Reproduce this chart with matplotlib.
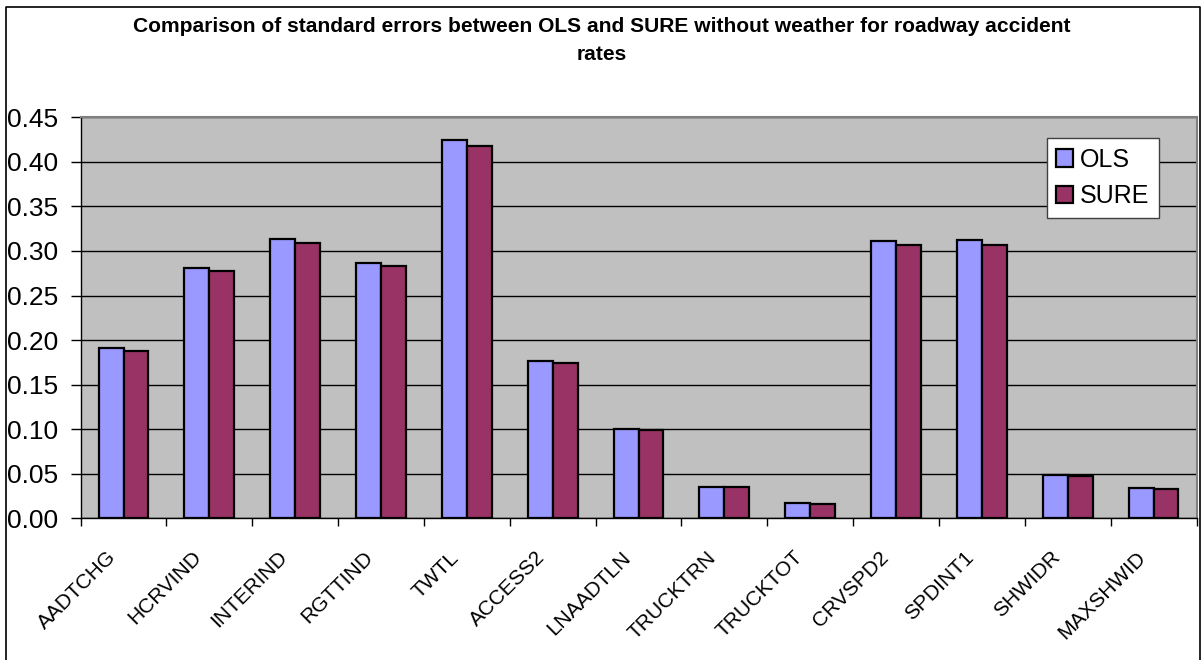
import numpy as np
import matplotlib
matplotlib.use("Agg")
from matplotlib import pyplot as plt
from matplotlib.transforms import ScaledTranslation

plt.rcParams['font.family'] = ['Liberation Sans', 'DejaVu Sans']

categories = ["AADTCHG", "HCRVIND", "INTERIND", "RGTTIND", "TWTL", "ACCESS2", "LNAADTLN",
              "TRUCKTRN", "TRUCKTOT", "CRVSPD2", "SPDINT1", "SHWIDR", "MAXSHWID"]
ols = [0.191, 0.281, 0.313, 0.287, 0.424, 0.177, 0.100, 0.035, 0.017, 0.311, 0.312, 0.049, 0.034]
sure = [0.188, 0.277, 0.309, 0.283, 0.418, 0.174, 0.099, 0.035, 0.016, 0.307, 0.307, 0.048, 0.033]
y_ticks = [0.00, 0.05, 0.10, 0.15, 0.20, 0.25, 0.30, 0.35, 0.40, 0.45]

W, H = 1203, 660
fig = plt.figure(figsize=(W / 100, H / 100), dpi=100)
ax = fig.add_axes([80.6 / W, 1 - 518.3 / H, (1196.5 - 80.6) / W, (518.3 - 117.3) / H])

# outer chart frame (no bottom edge visible)
fig.add_artist(plt.Line2D([6 / W, 6 / W, 1200 / W, 1200 / W], [0, 1 - 7 / H, 1 - 7 / H, 0],
                          transform=fig.transFigure, color="black", lw=1.2))

x = np.arange(len(categories))
bw = 0.29
ax.set_facecolor("#C0C0C0")
ax.bar(x - bw / 2, ols, bw, color="#9999FF", edgecolor="black", lw=1.6, label="OLS", zorder=3)
ax.bar(x + bw / 2, sure, bw, color="#993366", edgecolor="black", lw=1.6, label="SURE", zorder=3)

ax.set_xlim(-0.5, len(categories) - 0.5)
ax.set_ylim(0, 0.45)
ax.set_yticks(y_ticks)
ax.set_yticklabels(["%.2f" % v for v in y_ticks], fontsize=19)
ax.yaxis.grid(True, color="black", lw=1.0, zorder=1)
ax.set_axisbelow(True)

# ticks between categories, labels drawn as rotated texts under each group
ax.set_xticks(np.arange(-0.5, len(categories)))
ax.set_xticklabels([])
ax.tick_params(axis="x", length=6, width=1, direction="out")
ax.tick_params(axis="y", length=7, width=1, direction="out", pad=9)
offset = ScaledTranslation(-7 / 100, -40 / 100, fig.dpi_scale_trans)
for xi, name in zip(x, categories):
    ax.text(xi, 0, name, transform=ax.get_xaxis_transform() + offset,
            rotation=45, ha="right", va="baseline", rotation_mode="anchor", fontsize=15)

for side in ["top", "right"]:
    ax.spines[side].set_color("#808080")
    ax.spines[side].set_linewidth(1.5)
for side in ["left", "bottom"]:
    ax.spines[side].set_color("black")
    ax.spines[side].set_linewidth(1.0)

leg = ax.legend(loc="upper right", bbox_to_anchor=(0.9664, 0.9476), borderaxespad=0,
                fontsize=18, frameon=True, fancybox=False, edgecolor="#404040",
                handlelength=0.68, handleheight=0.68, handletextpad=0.28,
                labelspacing=0.5, borderpad=0.38)
leg.get_frame().set_linewidth(1.0)
leg.get_frame().set_facecolor("white")
leg.get_frame().set_alpha(1)

title_lines = ["Comparison of standard errors between OLS and SURE without weather for roadway accident",
               "rates"]
for line, base in zip(title_lines, [32, 60]):
    fig.text(0.5, 1 - base / H, line, ha="center", va="baseline",
             fontsize=15.1, fontweight="bold")

fig.savefig("out.png", dpi=100)
